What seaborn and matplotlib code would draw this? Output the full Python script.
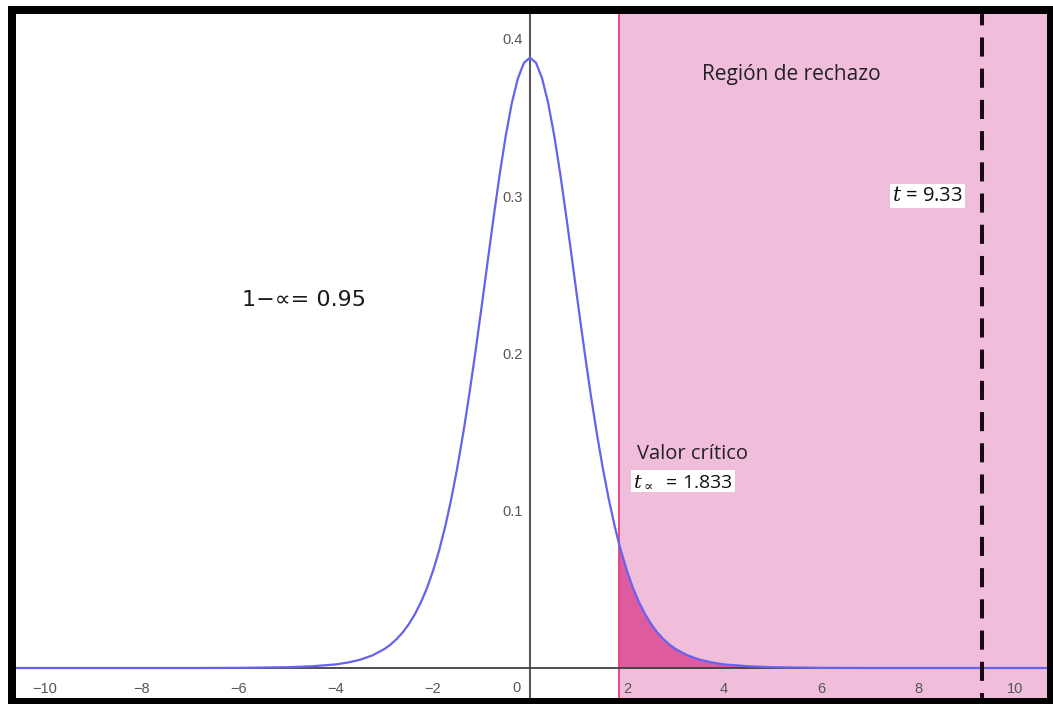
import matplotlib
matplotlib.use("Agg")
import matplotlib.pyplot as plt
import matplotlib.patches as mpatches
import seaborn as sns
import pandas as pd

# ---- data ----
x_vals = [-10.6, -7.0, -6.0, -5.0, -4.5, -4.0, -3.75, -3.5, -3.25, -3.0,
          -2.875, -2.75, -2.625, -2.5, -2.375, -2.25, -2.125, -2.0, -1.875, -1.75,
          -1.625, -1.5, -1.375, -1.25, -1.125, -1.0, -0.875, -0.75, -0.625, -0.5,
          -0.375, -0.25, -0.125, 0.0, 0.125, 0.25, 0.375, 0.5, 0.625, 0.75,
          0.875, 1.0, 1.125, 1.25, 1.375, 1.5, 1.625, 1.75, 1.833, 1.875,
          2.0, 2.125, 2.25, 2.375, 2.5, 2.625, 2.75, 2.875, 3.0, 3.25,
          3.5, 3.75, 4.0, 4.5, 5.0, 6.0, 7.0, 10.66]
density = [0.0000, 0.0000, 0.0001, 0.0005, 0.0011, 0.0023, 0.0035, 0.0053, 0.0080, 0.0121,
           0.0149, 0.0184, 0.0226, 0.0278, 0.0341, 0.0417, 0.0508, 0.0617, 0.0746, 0.0897,
           0.1072, 0.1272, 0.1496, 0.1743, 0.2010, 0.2291, 0.2580, 0.2866, 0.3138, 0.3384,
           0.3591, 0.3748, 0.3847, 0.3880, 0.3847, 0.3748, 0.3591, 0.3384, 0.3138, 0.2866,
           0.2580, 0.2291, 0.2010, 0.1743, 0.1496, 0.1272, 0.1072, 0.0897, 0.0794, 0.0746,
           0.0617, 0.0508, 0.0417, 0.0341, 0.0278, 0.0226, 0.0184, 0.0149, 0.0121, 0.0080,
           0.0053, 0.0035, 0.0023, 0.0011, 0.0005, 0.0001, 0.0000, 0.0000]
critical_value = 1.833
t_stat = 9.33
x_ticks = [-10, -8, -6, -4, -2, 2, 4, 6, 8, 10]
x_tick_labels = ["\u221210", "\u22128", "\u22126", "\u22124", "\u22122", "2", "4", "6", "8", "10"]
y_ticks = [0.1, 0.2, 0.3, 0.4]
y_tick_labels = ["0.1", "0.2", "0.3", "0.4"]
label_region = "Región de rechazo"
label_conf = "1\u2212\u221d= 0.95"
label_crit = "Valor crítico"
label_tcrit = r"$t_{\propto}$  = 1.833"
label_tstat = r"$t$ = 9.33"

df = pd.DataFrame({"x": x_vals, "y": density})

sns.set_style("white")
plt.rcParams["font.family"] = ["Open Sans", "DejaVu Sans"]
plt.rcParams["mathtext.fontset"] = "dejavuserif"

W, H = 1053, 704
fig = plt.figure(figsize=(W / 100, H / 100), dpi=100)
fig.patch.set_facecolor("white")
ax = fig.add_axes([16 / W, 6 / H, (1047 - 16) / W, (698 - 14) / H])
ax.set_xlim(-10.598, 10.660)
ax.set_ylim(-0.01907, 0.41577)
ax.set_facecolor("white")

pink_light = "#f0bddb"
pink_dark = "#df5b9f"
red_line = "#e43f78"
curve_col = "#6563ee"

# rejection region
ax.axvspan(critical_value, 10.66, color=pink_light, lw=0, zorder=0)
sub = df[df["x"] >= critical_value]
ax.fill_between(sub["x"], 0, sub["y"], color=pink_dark, lw=0, zorder=1)
ax.axvline(critical_value, color=red_line, lw=1.3, zorder=2)

# axes through zero
for s in ["top", "right"]:
    ax.spines[s].set_visible(False)
ax.spines["left"].set_position(("data", 0))
ax.spines["bottom"].set_position(("data", 0))
ax.spines["left"].set_color("#5a5a5a")
ax.spines["left"].set_linewidth(1.5)
ax.spines["bottom"].set_color("#404040")
ax.spines["bottom"].set_linewidth(1.3)
ax.spines["left"].set_zorder(2.5)
ax.spines["bottom"].set_zorder(2.5)

ax.set_xticks(x_ticks)
ax.set_xticklabels(x_tick_labels)
ax.set_yticks(y_ticks)
ax.set_yticklabels(y_tick_labels)
ax.tick_params(axis="x", direction="out", length=3, width=1, color="#505050",
               pad=7, labelsize=10.5, labelcolor="#555555")
ax.tick_params(axis="y", direction="out", length=3, width=1, color="#505050",
               pad=2, labelsize=10.5, labelcolor="#555555")
for lab in ax.get_xticklabels() + ax.get_yticklabels():
    lab.set_family(["Liberation Sans", "DejaVu Sans"])
ax.text(-0.27, -0.0130, "0", ha="center", va="center", fontsize=10.5, color="#555555",
        family=["Liberation Sans", "DejaVu Sans"])

# density curve
sns.lineplot(data=df, x="x", y="y", ax=ax, color=curve_col, lw=1.6,
             estimator=None, sort=True, zorder=3)
ax.set_xlabel("")
ax.set_ylabel("")

# test statistic
ax.axvline(t_stat, color="#1c0a14", lw=2.9, linestyle=(3.5, (19 / 4, 12 / 4)), zorder=4)

# texts
ax.text(5.38, 0.377, label_region, ha="center", va="center", fontsize=15, color="#222222", zorder=5)
ax.text(-4.66, 0.234, label_conf, ha="center", va="center", fontsize=16, color="#1a1a1a",
        family=["DejaVu Sans"], zorder=5)
ax.text(2.2, 0.136, label_crit, ha="left", va="center", fontsize=14.5, color="#222222", zorder=5)
ax.text(2.13, 0.119, label_tcrit, ha="left", va="center", fontsize=14, color="#111111", zorder=5,
        bbox=dict(facecolor="white", edgecolor="none", pad=1.5))
ax.text(7.47, 0.300, label_tstat, ha="left", va="center", fontsize=14.5, color="#111111", zorder=5,
        bbox=dict(facecolor="white", edgecolor="none", pad=1.5))

# black frame around the graphic
frame = mpatches.Rectangle((12 / W, 2 / H), (1051 - 12) / W, (694 - 2) / H,
                           transform=fig.transFigure, fill=False, edgecolor="black",
                           linewidth=5.76, zorder=10, clip_on=False)
fig.add_artist(frame)

fig.savefig("out.png", dpi=100)
